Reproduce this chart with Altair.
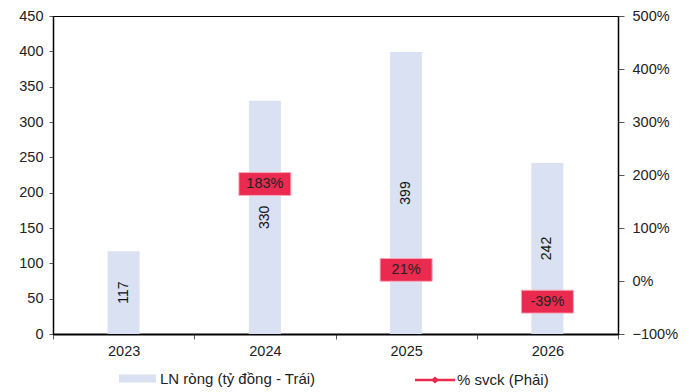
import altair as alt
import pandas as pd

years = ["2023", "2024", "2025", "2026"]
net_profit = [117, 330, 399, 242]          # LN ròng, tỷ đồng (left axis)
yoy_growth = [None, 183, 21, -39]          # % svck (right axis)

bar_name = "LN ròng (tỷ đồng - Trái)"
line_name = "% svck (Phải)"

df = pd.DataFrame({
    "year": years,
    "profit": net_profit,
    "growth": [g / 100 if g is not None else None for g in yoy_growth],
    "growth_label": [f"{g}%" if g is not None else "" for g in yoy_growth],
})

FONT = "Liberation Sans"
BAR_BLUE = "#D9E1F2"
RED = "#EA2A4F"
TXT = "#222"

x_enc = alt.X(
    "year:N",
    sort=years,
    title=None,
    scale=alt.Scale(paddingInner=0, paddingOuter=0),
    axis=alt.Axis(
        labelAngle=0, tickBand="extent", domainWidth=2, domainColor="#000",
        tickColor="#555", tickSize=5, labelPadding=5, labelFontSize=14.5,
        labelColor=TXT, labelFont=FONT,
    ),
)

left_scale = alt.Scale(domain=[0, 450], nice=False)
right_scale = alt.Scale(domain=[-1, 5], nice=False)

left_axis = alt.Axis(
    values=list(range(0, 451, 50)), grid=False, domainColor="#000",
    domainWidth=1.5, tickColor="#555", tickSize=4, labelFontSize=14.5,
    labelColor=TXT, labelFont=FONT, labelPadding=6, labelOverlap=False,
)
right_axis = alt.Axis(
    orient="right", format=".0%", values=[-1, 0, 1, 2, 3, 4, 5], grid=False,
    domainColor="#000", domainWidth=1.5, tickColor="#555", tickSize=6,
    labelFontSize=14.5, labelColor=TXT, labelFont=FONT, labelPadding=8,
    labelOverlap=False,
)

bars = alt.Chart(df).mark_bar(size=32).encode(
    x=x_enc,
    y=alt.Y("profit:Q", scale=left_scale, title=None, axis=left_axis),
    fill=alt.Fill(
        "series:N",
        scale=alt.Scale(domain=[bar_name], range=[BAR_BLUE]),
        legend=alt.Legend(
            title=None, orient="none", legendX=66, legendY=344,
            symbolType="M-1,-0.22L1,-0.22L1,0.22L-1,0.22Z", symbolSize=1369,
            symbolStrokeWidth=0, labelFontSize=15, labelColor=TXT,
            labelFont=FONT, labelOffset=4, labelLimit=300,
        ),
    ),
).transform_calculate(series=f"'{bar_name}'")

bar_labels = alt.Chart(df).mark_text(
    angle=270, fontSize=14, font=FONT, color="#111", baseline="middle", align="center"
).encode(
    x=alt.X("year:N", sort=years),
    y=alt.Y("mid:Q", scale=left_scale, title=None, axis=left_axis),
    text=alt.Text("profit:Q"),
).transform_calculate(mid="datum.profit / 2")

growth_data = alt.Chart(df).transform_filter("isValid(datum.growth)")

boxes = growth_data.mark_point(
    shape="M-1,-0.44L1,-0.44L1,0.44L-1,0.44Z", size=2704, filled=True,
    opacity=1, stroke="#F6A8B8", strokeWidth=1,
).encode(
    x=alt.X("year:N", sort=years),
    y=alt.Y("growth:Q", scale=right_scale, title=None, axis=right_axis),
    fill=alt.Fill(
        "series2:N",
        scale=alt.Scale(domain=[line_name], range=[RED]),
        legend=alt.Legend(
            title=None, orient="none", legendX=362, legendY=344,
            symbolType="M-1,-0.06L-0.13,-0.06L0,-0.17L0.13,-0.06L1,-0.06L1,0.06L0.13,0.06L0,0.17L-0.13,0.06L-1,0.06Z",
            symbolSize=1600, symbolStrokeWidth=0, labelFontSize=15,
            labelColor=TXT, labelFont=FONT, labelOffset=2, labelLimit=300,
        ),
    ),
).transform_calculate(series2=f"'{line_name}'")

box_text = growth_data.mark_text(
    fontSize=14.5, font=FONT, color=TXT, baseline="middle", align="center"
).encode(
    x=alt.X("year:N", sort=years),
    y=alt.Y("growth:Q", scale=right_scale, title=None, axis=right_axis),
    text="growth_label:N",
)

left = alt.layer(bars, bar_labels)
right = alt.layer(boxes, box_text)

chart = alt.layer(left, right).resolve_scale(
    y="independent", fill="independent"
).properties(
    width=565,
    height=318,
    padding={"left": 53, "top": 16, "right": 71, "bottom": 58},
    autosize=alt.AutoSizeParams(type="none"),
    background="white",
).configure_view(stroke="#000", strokeWidth=1)

chart.save("out.html", embed_options={"renderer": "svg", "actions": False})
